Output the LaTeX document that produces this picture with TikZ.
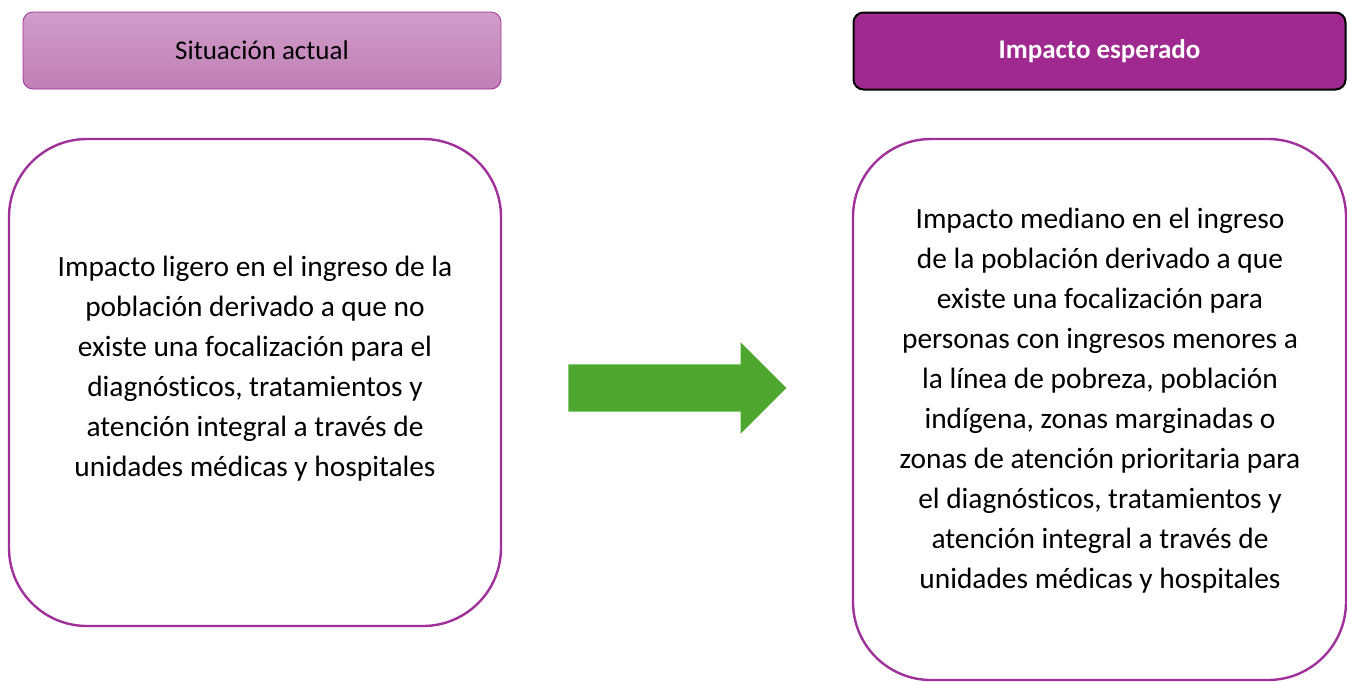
\documentclass[tikz,border=0pt]{standalone}
\usepackage{fontspec}
\setmainfont[Ligatures=NoCommon]{Carlito}
\usetikzlibrary{shapes.arrows}

\definecolor{moradoarriba}{HTML}{D09DC9}
\definecolor{moradoabajo}{HTML}{C17FB5}
\definecolor{moradoborde}{HTML}{A0309A}
\definecolor{moradofuerte}{HTML}{A0298F}
\definecolor{verdeflecha}{HTML}{4EA72E}

\tikzset{
  cabecera/.style={rectangle, rounded corners=10pt, minimum height=77pt,
    font=\fontsize{27}{32}\selectfont},
  caja/.style={rectangle, rounded corners=78pt, draw=moradoborde, line width=2.4pt},
  texto/.style={align=center, font=\fontsize{29.4}{40}\selectfont}
}

\begin{document}
\begin{tikzpicture}[x=1pt,y=-1pt]
        \useasboundingbox (0,0) rectangle (1347,681);

        % Cabeceras
        \node[cabecera, minimum width=478pt, draw=moradoborde, line width=0.8pt,
              top color=moradoarriba, bottom color=moradoabajo] (actual) at (262,50.5) {Situación actual};
        \node[cabecera, minimum width=492pt, draw=black, line width=2pt, fill=moradofuerte,
              text=white, font=\fontsize{27}{32}\selectfont\bfseries] (esperado) at (1099.5,51) {Impacto esperado};

        % Cajas grandes
        \node[caja, minimum width=492pt, minimum height=487pt] (sitbox) at (255,382.5) {};
        \node[caja, minimum width=493pt, minimum height=541pt] (impbox) at (1099.5,409.5) {};

        \node[texto] (sittexto) at (255,369) {Impacto ligero en el ingreso de la\\
            población derivado a que no\\
            existe una focalización para el\\
            diagnósticos, tratamientos y\\
            atención integral a través de\\
            unidades médicas y hospitales};
        \node[texto] (imptexto) at (1100,401) {Impacto mediano en el ingreso\\
            de la población derivado a que\\
            existe una focalización para\\
            personas con ingresos menores a\\
            la línea de pobreza, población\\
            indígena, zonas marginadas o\\
            zonas de atención prioritaria para\\
            el diagnósticos, tratamientos y\\
            atención integral a través de\\
            unidades médicas y hospitales};

        % Flecha
        \node[single arrow, fill=verdeflecha, minimum height=218pt, inner xsep=0pt, inner ysep=23.5pt,
              single arrow head extend=22pt, single arrow tip angle=90] (flecha) at (665.5,388) {};
\end{tikzpicture}
\end{document}
